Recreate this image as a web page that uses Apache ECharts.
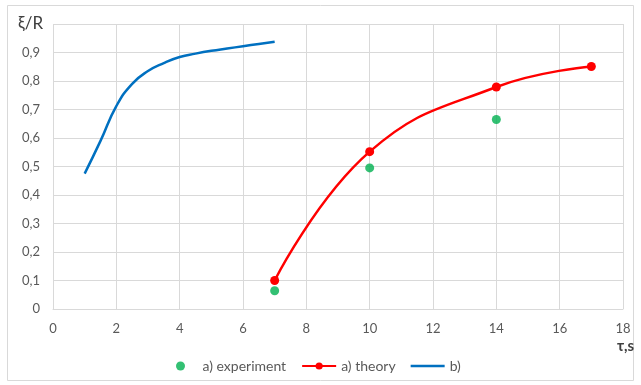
<!DOCTYPE html>
<html><head><meta charset="utf-8">
<script src="https://cdn.jsdelivr.net/npm/echarts@6/dist/echarts.min.js"></script>
<style>html,body{margin:0;padding:0;background:#fff}#c{width:641px;height:385px}</style>
</head><body><div id="c"></div>
<script>
// Data
var expX = [7, 10, 14];
var expY = [0.064, 0.495, 0.665];
var theoryX = [7, 10, 14, 17];
var theoryY = [0.10, 0.552, 0.779, 0.851];
var bX = [1, 1.5, 2, 2.5, 3, 3.5, 4, 4.5, 5, 5.5, 6, 6.5, 7];
var bY = [0.475, 0.59, 0.712, 0.79, 0.835, 0.863, 0.884, 0.896, 0.906, 0.914, 0.922, 0.930, 0.938];
var xTicks = [0, 2, 4, 6, 8, 10, 12, 14, 16, 18];
var yTicks = [0, 0.1, 0.2, 0.3, 0.4, 0.5, 0.6, 0.7, 0.8, 0.9];
var seriesNames = ['a) experiment', 'a) theory', 'b)'];

function pairs(xs, ys){ return xs.map(function(x,i){ return [x, ys[i]]; }); }

var FONT = 'Lato';
var chart = echarts.init(document.getElementById('c'), null, {renderer:'canvas'});
chart.setOption({
  animation: false,
  backgroundColor: '#fff',
  textStyle: {fontFamily: FONT},
  grid: {left: 53, right: 18, top: 24, bottom: 76, containLabel: false},
  xAxis: {
    type: 'value', min: 0, max: 18, interval: 2,
    axisLine: {show: true, lineStyle: {color: '#d9d9d9', width: 1}},
    axisTick: {show: false},
    splitLine: {show: true, lineStyle: {color: '#d9d9d9', width: 1}},
    axisLabel: {color: '#595959', fontSize: 13, fontFamily: FONT, margin: 13,
      formatter: function(v){ return xTicks.indexOf(v) >= 0 ? String(v) : ''; }}
  },
  yAxis: {
    type: 'value', min: 0, max: 1, interval: 0.1,
    axisLine: {show: false},
    axisTick: {show: false},
    splitLine: {show: true, lineStyle: {color: '#d9d9d9', width: 1}},
    axisLabel: {color: '#595959', fontSize: 13, fontFamily: FONT, margin: 13,
      formatter: function(v){
        var r = Math.round(v*10)/10;
        if (yTicks.indexOf(r) < 0) return '';
        return String(r).replace('.', ',');
      }}
  },
  legend: {
    top: 354, left: 171, itemGap: 15, itemWidth: 34, itemHeight: 9,
    textStyle: {color: '#595959', fontSize: 14, fontFamily: FONT},
    data: [
      {name: seriesNames[0], icon: 'circle'},
      {name: seriesNames[1]},
      {name: seriesNames[2], icon: 'path://M0,0 L34,0 L34,2.5 L0,2.5 Z'}
    ]
  },
  graphic: [
    {type: 'rect', shape: {x: 7.5, y: 5.5, width: 626, height: 375}, style: {fill: 'none', stroke: '#d9d9d9', lineWidth: 1}, silent: true, z: -10},
    {type: 'text', left: 18, top: 15, style: {text: 'ξ/R', fill: '#404040', font: '17px Lato'}},
    {type: 'text', left: 617, top: 339, style: {text: 'τ,s', fill: '#404040', font: 'bold 15px Lato'}}
  ],
  series: [
    {name: seriesNames[0], type: 'scatter', data: pairs(expX, expY),
     symbol: 'circle', symbolSize: 9, itemStyle: {color: '#00b050'}, z: 3},
    {name: seriesNames[1], type: 'line', data: pairs(theoryX, theoryY), smooth: 0.45,
     symbol: 'circle', symbolSize: 9, showSymbol: true,
     lineStyle: {color: '#ff0000', width: 2.5}, itemStyle: {color: '#ff0000'}, z: 4},
    {name: seriesNames[2], type: 'line', data: pairs(bX, bY), smooth: 0.5,
     symbol: 'none', lineStyle: {color: '#0070c0', width: 2.5}, itemStyle: {color: '#0070c0'}, z: 4}
  ]
});
</script></body></html>
